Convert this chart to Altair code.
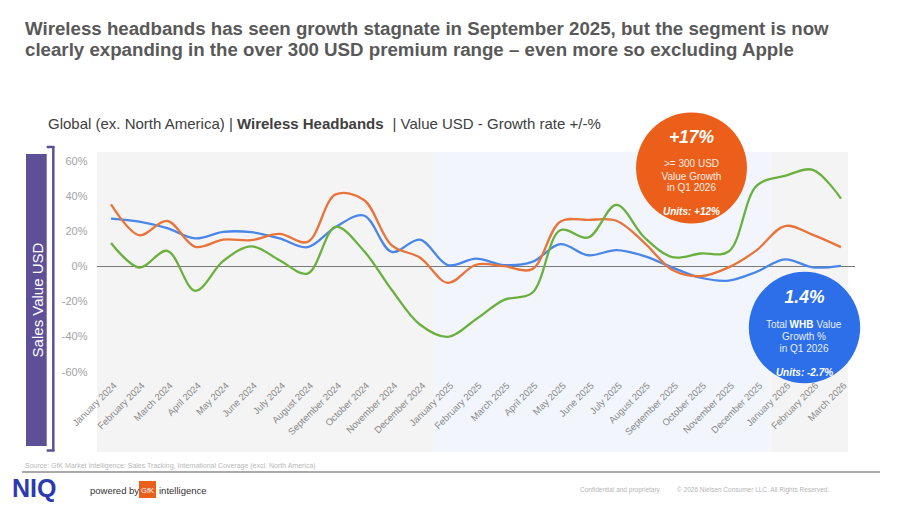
import json
import altair as alt
import pandas as pd

# ---------------- data ----------------
months = [
    "January 2024", "February 2024", "March 2024", "April 2024", "May 2024", "June 2024",
    "July 2024", "August 2024", "September 2024", "October 2024", "November 2024", "December 2024",
    "January 2025", "February 2025", "March 2025", "April 2025", "May 2025", "June 2025",
    "July 2025", "August 2025", "September 2025", "October 2025", "November 2025", "December 2025",
    "January 2026", "February 2026", "March 2026",
]
grand_total = [27.2, 25.5, 21.8, 16.0, 19.7, 19.5, 16.0, 11.0, 22.5, 29.0, 8.3, 15.3,
               0.8, 4.5, 0.8, 2.6, 12.7, 6.4, 9.3, 5.9, -0.6, -6.4, -8.0, -3.0,
               4.0, -0.5, 0.4]
premium_300 = [35.3, 17.8, 25.9, 11.2, 15.3, 15.0, 18.5, 14.0, 41.0, 38.0, 12.0, 5.1,
               -9.3, 1.0, 0.2, -1.5, 25.5, 26.5, 26.0, 13.5, -2.0, -5.5, -0.5, 9.3,
               23.0, 18.0, 11.0]
without_apple = [13.4, -0.6, 8.9, -13.8, 3.2, 11.5, 3.6, -4.0, 22.5, 9.0, -13.4, -33.0,
                 -40.0, -30.0, -19.0, -15.0, 20.6, 16.5, 35.0, 16.5, 5.3, 7.4, 8.5, 46.0,
                 51.5, 55.0, 38.6]
series_names = [
    "Wireless Headbands - Global, Grand Total",
    "Wireless Headbands - Global >= 300",
    "Wireless HB - without Apple",
]
series_colors = ["#4A86E8", "#E8743B", "#6BB03E"]
years = ["2024", "2025", "2026"]
year_colors = ["#F4F4F4", "#F2F6FC", "#F4F4F4"]
y_ticks = [-60, -40, -20, 0, 20, 40, 60]

rows = []
for name, vals in zip(series_names, [grand_total, premium_300, without_apple]):
    for i, v in enumerate(vals):
        rows.append({"idx": i, "month": months[i], "series": name, "value": v})
df = pd.DataFrame(rows)

band_rows = []
for yr, col in zip(years, year_colors):
    ids = [i for i, m in enumerate(months) if m.endswith(yr)]
    end = ids[-1] + 0.5 if ids[-1] < len(months) - 1 else ids[-1] + 0.25
    band_rows.append({"year": yr, "start": ids[0] - 0.5, "end": end, "color": col})
bands_df = pd.DataFrame(band_rows)

FONT = "Liberation Sans"
W, H = 758, 211
one = pd.DataFrame({"k": [0]})

x_scale = alt.Scale(domain=[-0.5, 26.5], nice=False, zero=False)
y_scale = alt.Scale(domain=[-60, 60], nice=False)
x_axis = alt.Axis(values=list(range(len(months))), labelExpr=json.dumps(months) + "[datum.value]",
                  labelAngle=-45, labelFontSize=9.5, labelColor="#8a8a8a", labelFont=FONT,
                  ticks=False, domain=False, grid=False, title=None, labelPadding=8, zindex=1,
                  labelOverlap=False)
y_axis = alt.Axis(values=y_ticks, labelExpr="datum.value + '%'", labelFontSize=11,
                  labelColor="#a3a3a3", labelFont=FONT, ticks=False, domain=False, grid=False,
                  title=None, labelPadding=10, zindex=1)


def X(field):
    return alt.X(field, scale=x_scale, axis=x_axis)


def Y(field):
    return alt.Y(field, scale=y_scale, axis=y_axis)


def txt(text, x, y, size, color, weight="normal", style="normal", align="left",
        angle=0, opacity=1.0, baseline="alphabetic"):
    return alt.Chart(one).mark_text(
        text=text, font=FONT, fontSize=size, color=color, fontWeight=weight,
        fontStyle=style, align=align, angle=angle, opacity=opacity, baseline=baseline,
    ).encode(x=alt.value(x), y=alt.value(y))


layers = []

# background year bands
layers.append(
    alt.Chart(bands_df).mark_rect(clip=False).encode(
        x=X("start:Q"), x2="end:Q", y=alt.value(-9), y2=alt.value(291),
        color=alt.Color("color:N", scale=None, legend=None),
    )
)

# zero line
layers.append(
    alt.Chart(pd.DataFrame({"v": [0]})).mark_rule(color="#7a7a7a", strokeWidth=1).encode(y=Y("v:Q"))
)

# series lines
layers.append(
    alt.Chart(df).mark_line(interpolate="catmull-rom", strokeWidth=2.3).encode(
        x=X("idx:Q"), y=Y("value:Q"),
        color=alt.Color("series:N", scale=alt.Scale(domain=series_names, range=series_colors),
                        legend=alt.Legend(orient="none", legendX=6, legendY=-7.5, title=None,
                                          symbolType="stroke", symbolStrokeWidth=2.3,
                                          symbolSize=289, labelFontSize=11.2, labelColor="#333333",
                                          labelFont=FONT, labelOffset=2, rowPadding=1.5,
                                          padding=0, labelLimit=400)),
        order="idx:Q",
    )
)

# annotation circles (diameter = sqrt(size))
layers.append(alt.Chart(one).mark_circle(size=12300, opacity=1, color="#EB5F1A").encode(
    x=alt.value(594.5), y=alt.value(7)))
layers.append(alt.Chart(one).mark_circle(size=12400, opacity=1, color="#2D6FE8").encode(
    x=alt.value(707.5), y=alt.value(166.5)))

# orange circle text
layers += [
    txt("+17%", 594.5, -18, 17.5, "white", "bold", "italic", "center"),
    txt(">= 300 USD", 594.5, 6, 10, "white", align="center", opacity=0.88),
    txt("Value Growth", 594.5, 18.5, 10, "white", align="center", opacity=0.88),
    txt("in Q1 2026", 594.5, 30, 10, "white", align="center", opacity=0.88),
    txt("Units: +12%", 594.5, 54, 10, "white", "bold", "italic", "center"),
]
# blue circle text
layers += [
    txt("1.4%", 707.5, 142, 17.5, "white", "bold", "italic", "center"),
    txt("Total", 690, 167, 10, "white", align="right", opacity=0.88),
    txt("WHB", 704.5, 167, 10, "white", "bold", align="center"),
    txt("Value", 719.5, 167, 10, "white", align="left", opacity=0.88),
    txt("Growth %", 707, 179, 10, "white", align="center", opacity=0.88),
    txt("in Q1 2026", 707, 190.5, 10, "white", align="center", opacity=0.88),
    txt("Units: -2.7%", 707.5, 214.5, 10, "white", "bold", "italic", "center"),
]

# titles
layers += [
    txt("Wireless headbands has seen growth stagnate in September 2025, but the segment is now",
        -72, -126, 18.7, "#595959", "bold"),
    txt("clearly expanding in the over 300 USD premium range \u2013 even more so excluding Apple",
        -72, -105, 18.7, "#595959", "bold"),
    txt("Global (ex. North America) |", -49, -32, 15, "#404040"),
    txt("Wireless Headbands", 140, -32, 15, "#404040", "bold"),
    txt("| Value USD - Growth rate +/-%", 295.5, -32, 15, "#404040"),
]

# left purple bar with axis title and bracket
layers += [
    alt.Chart(one).mark_rect(color="#5E5096").encode(
        x=alt.value(-71), x2=alt.value(-50.3), y=alt.value(-7), y2=alt.value(285)),
    txt("Sales Value USD", -59.5, 139, 15, "white", align="center", angle=270, baseline="middle"),
    alt.Chart(one).mark_rule(color="#5E5096", strokeWidth=2.5).encode(
        x=alt.value(-43.7), y=alt.value(-14.5), y2=alt.value(290)),
    alt.Chart(one).mark_rule(color="#5E5096", strokeWidth=2.5).encode(
        x=alt.value(-50.3), x2=alt.value(-42.5), y=alt.value(-14)),
    alt.Chart(one).mark_rule(color="#5E5096", strokeWidth=2.5).encode(
        x=alt.value(-50.3), x2=alt.value(-42.5), y=alt.value(289.5)),
]

# footer
layers += [
    txt("Source: GfK Market Intelligence: Sales Tracking, International Coverage (excl. North America)",
        -72, 307, 7, "#b8b8b8"),
    alt.Chart(one).mark_rule(color="#8c8c8c", strokeWidth=1.5).encode(
        x=alt.value(-75), x2=alt.value(783), y=alt.value(311)),
    txt("NIQ", -85, 336, 25, "#2B3AAE", "bold"),
    txt("powered by", -7, 333, 9.5, "#333333"),
    alt.Chart(one).mark_rect(color="#E9601C").encode(
        x=alt.value(42), x2=alt.value(59), y=alt.value(320), y2=alt.value(337)),
    txt("GfK", 50.5, 331.5, 7.5, "white", align="center"),
    txt("intelligence", 62, 333, 9.5, "#333333"),
    txt("Confidential and proprietary", 483, 331, 6.5, "#b5b5b5"),
    txt("\u00a9 2026 Nielsen Consumer LLC. All Rights Reserved.", 580, 331, 6.5, "#b5b5b5"),
]

chart = alt.layer(*layers).properties(
    width=W, height=H,
    padding={"left": 89, "top": 153, "right": 37, "bottom": 134},
    autosize=alt.AutoSizeParams(type="none"),
).configure(font=FONT).configure_view(stroke=None)

chart.save("out.html", embed_options={"renderer": "svg", "actions": False})
